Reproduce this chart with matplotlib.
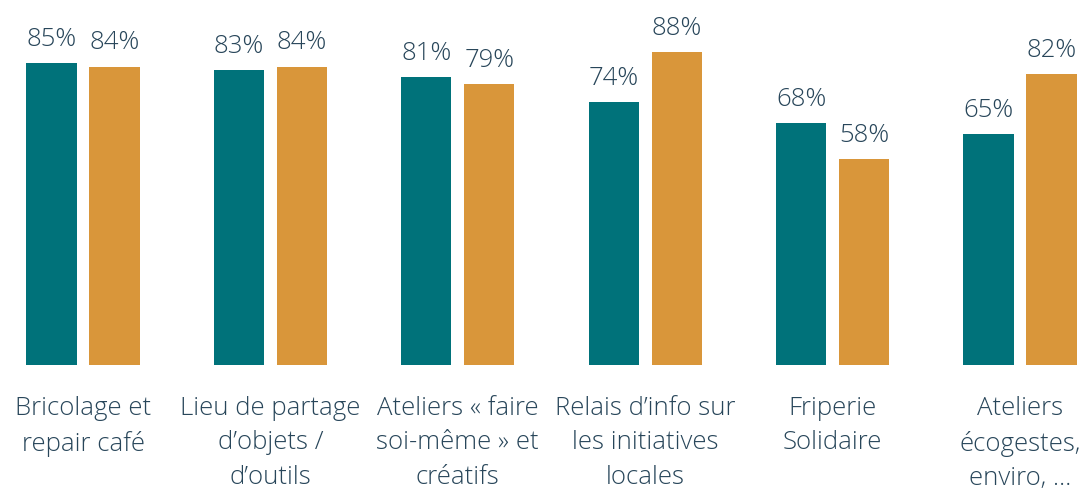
import matplotlib
matplotlib.use('Agg')
import matplotlib.pyplot as plt
import numpy as np

plt.rcParams['font.family'] = ['Open Sans', 'DejaVu Sans']

categories = [
    'Bricolage et\nrepair café',
    'Lieu de partage\nd\u2019objets /\nd\u2019outils',
    'Ateliers \u00ab faire\nsoi-même \u00bb et\ncréatifs',
    'Relais d\u2019info sur\nles initiatives\nlocales',
    'Friperie\nSolidaire',
    'Ateliers\nécogestes,\nenviro, \u2026',
]
serie_a = [85, 83, 81, 74, 68, 65]
serie_b = [84, 84, 79, 88, 58, 82]

teal = '#00727A'
orange = '#D9963A'
text_col = '#28465A'

fig = plt.figure(figsize=(10.92, 4.90), dpi=100)
ax = fig.add_axes([0, 125 / 490, 1, 365 / 490])

x = np.arange(len(categories))
w = 0.267
off = 0.168
bars_a = ax.bar(x - off, serie_a, w, color=teal)
bars_b = ax.bar(x + off, serie_b, w, color=orange)

for bars, vals in [(bars_a, serie_a), (bars_b, serie_b)]:
    for b, v in zip(bars, vals):
        ax.annotate(f'{v}%', (b.get_x() + b.get_width() / 2, v),
                    xytext=(0, 8), textcoords='offset points',
                    ha='center', va='bottom', fontsize=18.5,
                    fontweight='light', color=text_col)

for xi, lab in zip(x, categories):
    ax.annotate(lab, (xi, 0), xytext=(0, -22), textcoords='offset points',
                ha='center', va='top', fontsize=18.5, fontweight='light',
                color=text_col, linespacing=1.5, annotation_clip=False)

ax.set_xlim(-83 / 187.4, (1092 - 83) / 187.4)
ax.set_ylim(0, 365 / 3.553)
ax.axis('off')

fig.savefig('out.png', dpi=100)
